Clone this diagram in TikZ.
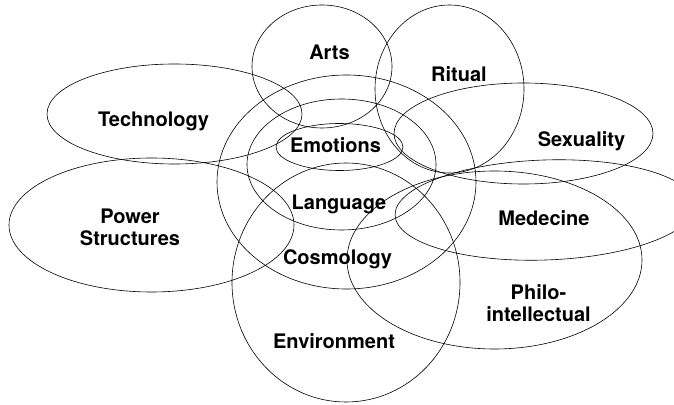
\documentclass[tikz,border=0pt]{standalone}
\usepackage{fontspec}
\setmainfont{TeX Gyre Heros}

\begin{document}
\begin{tikzpicture}[
  x=1pt,y=1pt,
  every node/.style={font=\fontsize{20}{22.5}\selectfont\bfseries},
  lbl/.style={anchor=base,align=center,inner sep=0pt},
  ring/.style={line width=.6pt}
]
\useasboundingbox (0,0) rectangle (674,404);
\clip (0,0) rectangle (674,404);
% rings: centre x / centre y / x radius / y radius
\foreach \cx/\cy/\rx/\ry in {322/337.5/70/61.5, 449.5/315/74.5/84,
    174.5/290/127.5/50, 151.5/179/142.5/67, 346.5/222/129.5/107,
    341.5/239.5/94.5/65.5, 339.5/257/63.5/23.5, 346/121.5/114/119.5,
    523.5/270.5/129.5/50.5, 494.5/144/147.5/89} {
  \draw[ring] (\cx,\cy) ellipse [x radius=\rx pt, y radius=\ry pt];
}
% medecine runs off the right edge, slightly tilted
\draw[ring,rotate around={2:(545,194)}] (545,194) ellipse [x radius=150pt, y radius=50pt];

% base of a two-line label is its last line
\node[lbl] (arts) at (329.5,344) {Arts};
\node[lbl] (ritual) at (459,322) {Ritual};
\node[lbl] (technology) at (153.5,277) {Technology};
\node[lbl] (sexuality) at (581.5,257) {Sexuality};
\node[lbl] (emotions) at (335.5,251) {Emotions};
\node[lbl] (language) at (339,194) {Language};
\node[lbl] (power) at (130,158) {Power\\Structures};
\node[lbl] (medecine) at (544,178) {Medecine};
\node[lbl] (cosmology) at (337.5,139) {Cosmology};
\node[lbl] (philo) at (538.5,82) {Philo-\\intellectual};
\node[lbl] (environment) at (334,56) {Environment};
\end{tikzpicture}
\end{document}
